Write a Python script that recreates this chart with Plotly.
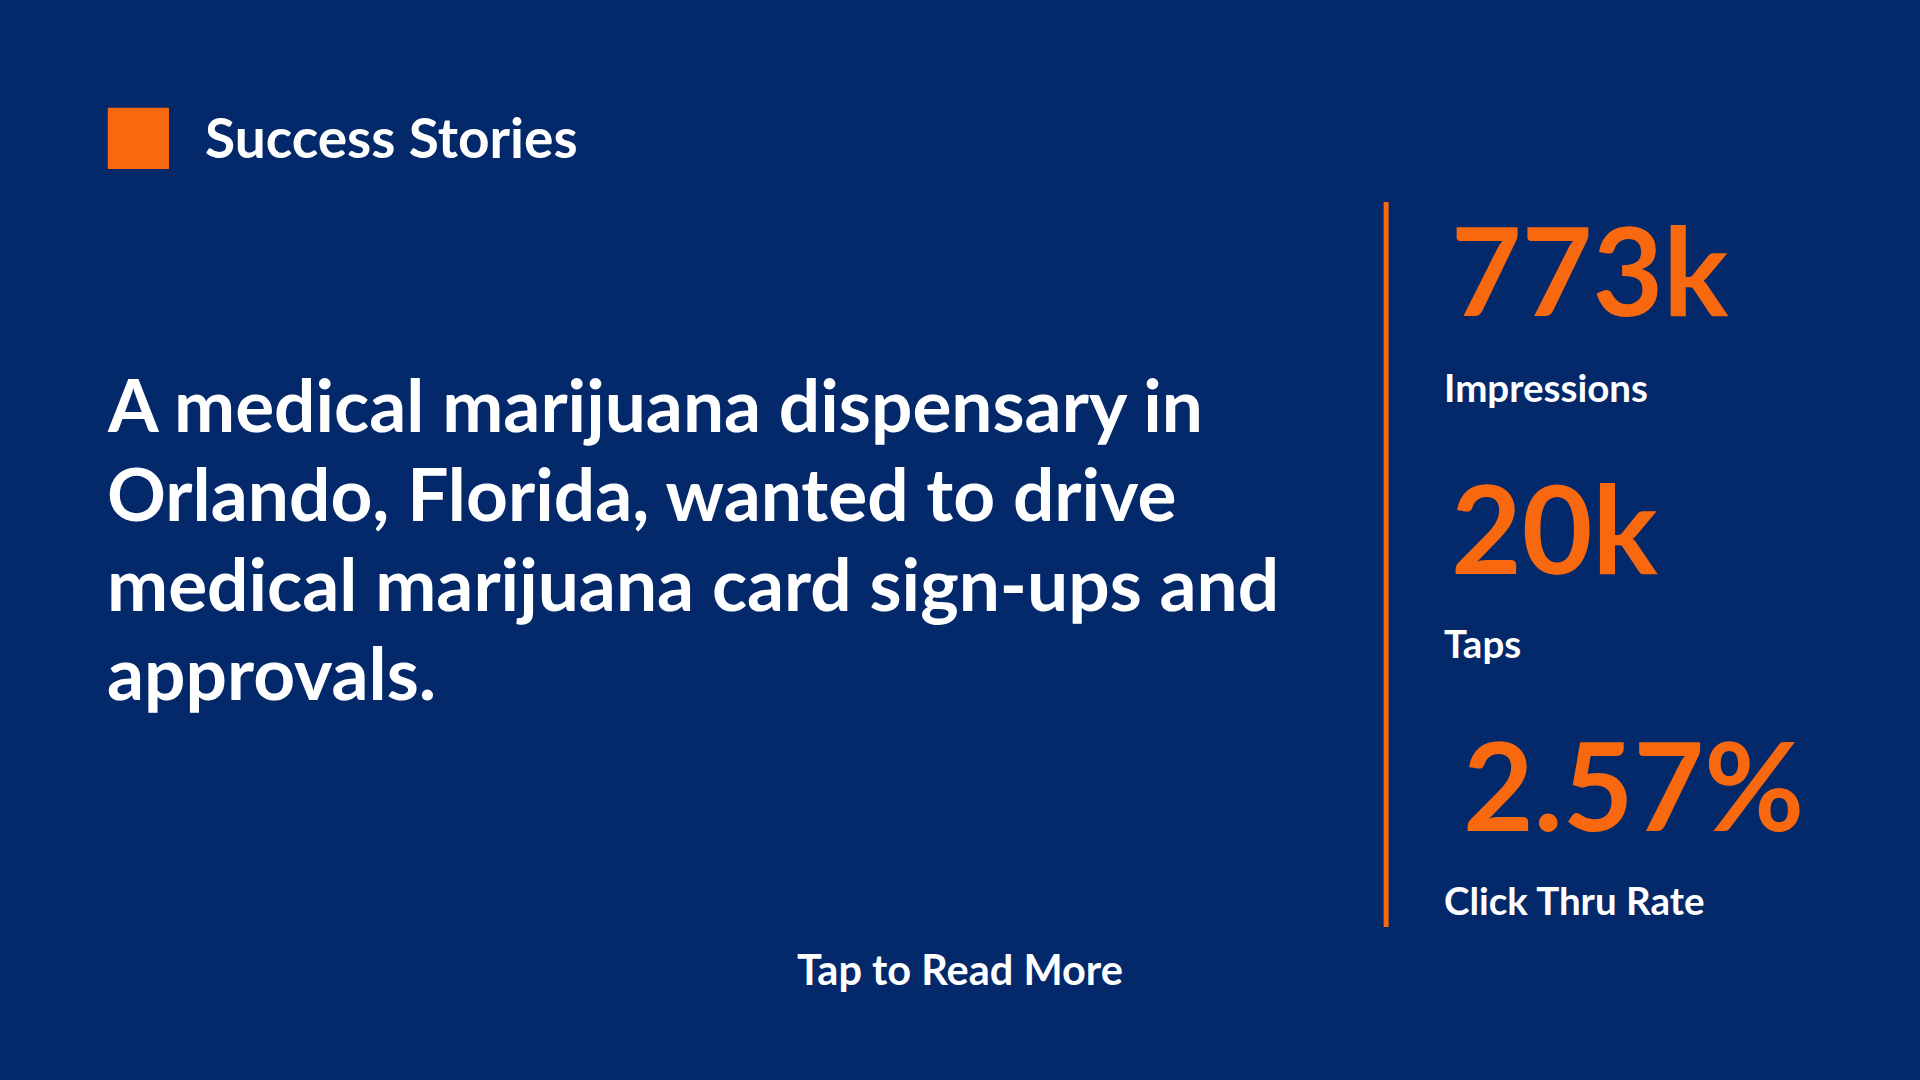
import plotly.graph_objects as go

# content
title = "Success Stories"
body_lines = [
    "A medical marijuana dispensary in",
    "Orlando, Florida, wanted to drive",
    "medical marijuana card sign-ups and",
    "approvals.",
]
stat_values = ["773k", "20k", "2.57%"]
stat_labels = ["Impressions", "Taps", "Click Thru Rate"]
footer = "Tap to Read More"

BG = "#03296a"
ORANGE = "#f7680f"
W, H = 1568, 882  # reference pixel grid, used only for placement

def px(x):
    return x / W

def py(y):
    return 1 - y / H

fig = go.Figure()
fig.update_xaxes(visible=False, range=[0, 1])
fig.update_yaxes(visible=False, range=[0, 1])

FONT = "Lato"
ann = []
ann.append(dict(x=px(166), y=py(112), text=f"<b>{title}</b>", xanchor="left", yanchor="middle",
                font=dict(size=55, color="white", family=FONT)))
for i, line in enumerate(body_lines):
    ann.append(dict(x=px(86), y=py(330 + 73 * i), text=f"<b>{line}</b>", xanchor="left", yanchor="middle",
                    font=dict(size=73, color="white", family=FONT)))

stat_y = [220, 430, 640]
label_y = [316, 525, 735]
stat_x = [1183, 1183, 1193]
for v, lab, sy, ly, sx in zip(stat_values, stat_labels, stat_y, label_y, stat_x):
    ann.append(dict(x=px(sx), y=py(sy), text=f"<b>{v}</b>", xanchor="left", yanchor="middle",
                    font=dict(size=122, color=ORANGE, family=FONT)))
    ann.append(dict(x=px(1178), y=py(ly), text=f"<b>{lab}</b>", xanchor="left", yanchor="middle",
                    font=dict(size=38.5, color="white", family=FONT)))

ann.append(dict(x=0.5, y=py(791), text=f"<b>{footer}</b>", xanchor="center", yanchor="middle",
                font=dict(size=41.5, color="white", family=FONT)))

for a in ann:
    a.update(xref="paper", yref="paper", showarrow=False)

fig.update_layout(
    width=1920, height=1080,
    margin=dict(l=0, r=0, t=0, b=0),
    paper_bgcolor=BG, plot_bgcolor=BG,
    annotations=ann,
    shapes=[
        dict(type="rect", xref="paper", yref="paper", x0=px(88), x1=px(138), y0=py(138), y1=py(88),
             fillcolor=ORANGE, line_width=0, layer="above"),
        dict(type="line", xref="paper", yref="paper", x0=px(1132), x1=px(1132), y0=py(757), y1=py(165),
             line=dict(color=ORANGE, width=5)),
    ],
    showlegend=False,
)

fig.write_html("out.html", config={"displayModeBar": False},
               post_script="document.body.style.margin='0';")
